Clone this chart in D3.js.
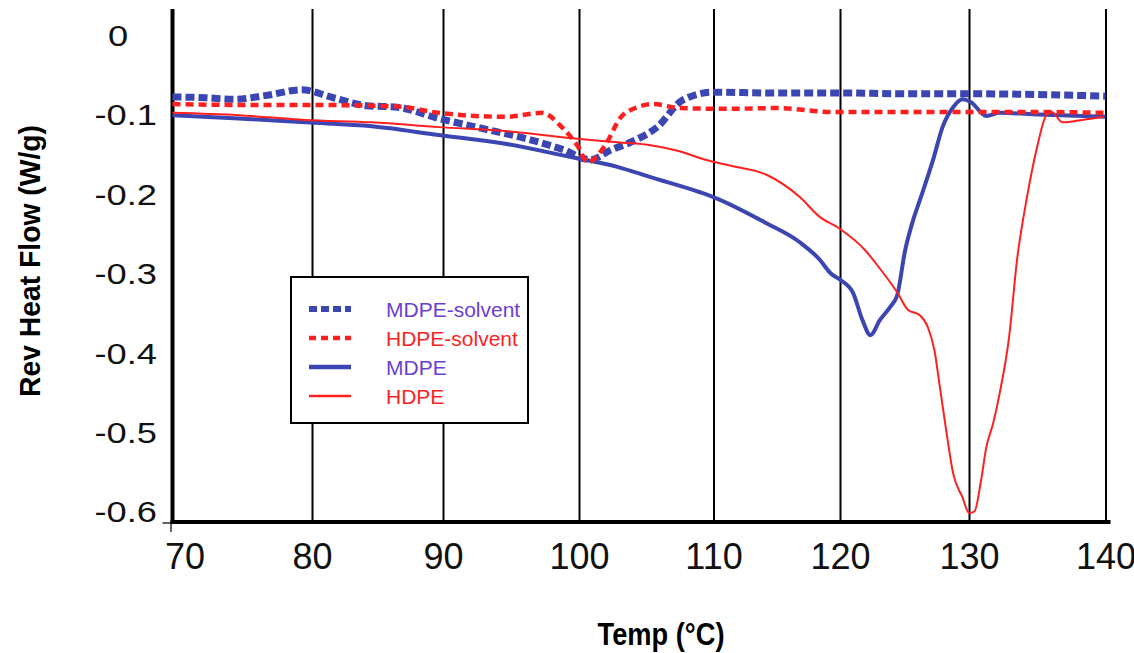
<!DOCTYPE html>
<html>
<head>
<meta charset="utf-8">
<script src="https://cdn.jsdelivr.net/npm/d3@7"></script>
<style>
  html, body { margin: 0; padding: 0; background: #fff; }
  svg { display: block; }
</style>
</head>
<body>
<svg id="chart" width="1134" height="653"></svg>
<script>
// ---------- data ----------
const xTicks = [70, 80, 90, 100, 110, 120, 130, 140];
const yTicks = [0, -0.1, -0.2, -0.3, -0.4, -0.5, -0.6];
const yTickLabels = ["0", "-0.1", "-0.2", "-0.3", "-0.4", "-0.5", "-0.6"];

const seriesNames = ["MDPE-solvent", "HDPE-solvent", "MDPE", "HDPE"];

const mdpeSolventT = [70, 72.35, 74.36, 76.75, 79.24, 81.63, 84.17, 86.51, 89.66, 92.71, 96.43, 98.79, 100.86, 102.34, 103.83, 105.81, 107.7, 109.98, 114.61, 119.87, 125.05, 130.2, 135.08, 140];
const mdpeSolventV = [-0.078, -0.079, -0.081, -0.076, -0.069, -0.079, -0.089, -0.091, -0.105, -0.117, -0.132, -0.144, -0.157, -0.145, -0.135, -0.116, -0.082, -0.072, -0.073, -0.073, -0.074, -0.074, -0.075, -0.077];

const hdpeSolventT = [70, 74.74, 79.52, 86.51, 89.66, 94.63, 97.28, 98.79, 99.87, 100.66, 102.05, 103.04, 104.33, 105.52, 107.5, 111.03, 115.04, 119.46, 125.05, 130.2, 135.08, 140];
const hdpeSolventV = [-0.087, -0.088, -0.088, -0.09, -0.098, -0.103, -0.098, -0.117, -0.139, -0.16, -0.136, -0.105, -0.091, -0.087, -0.092, -0.093, -0.092, -0.097, -0.097, -0.097, -0.097, -0.098];

const mdpeT = [70, 74.74, 79.52, 84.58, 89.66, 94.58, 99.49, 102.85, 105.32, 108.99, 109.98, 114.19, 116.82, 118.4, 119.25, 120.09, 121.02, 121.74, 122.36, 123.09, 123.91, 124.43, 125.05, 125.67, 126.19, 127.22, 127.95, 128.77, 129.49, 130.1, 131.27, 132.25, 135.08, 140];
const mdpeV = [-0.101, -0.105, -0.11, -0.115, -0.126, -0.137, -0.154, -0.166, -0.179, -0.198, -0.204, -0.237, -0.261, -0.283, -0.3, -0.309, -0.325, -0.359, -0.378, -0.359, -0.342, -0.328, -0.271, -0.233, -0.208, -0.157, -0.116, -0.091, -0.081, -0.084, -0.102, -0.098, -0.1, -0.103];

const hdpeT = [70, 74.74, 79.52, 84.58, 89.66, 94.58, 99.49, 102.85, 105.43, 107.4, 109.39, 111.46, 114.19, 116.82, 118.4, 119.89, 121.95, 122.99, 124.43, 125.26, 126.19, 126.81, 127.32, 127.74, 128.26, 128.77, 129.49, 130.01, 130.4, 130.89, 131.27, 131.77, 132.25, 132.94, 133.52, 134.21, 134.99, 135.67, 136.07, 136.85, 138.31, 139.87];
const hdpeV = [-0.098, -0.101, -0.107, -0.11, -0.116, -0.121, -0.13, -0.135, -0.139, -0.146, -0.157, -0.165, -0.176, -0.204, -0.229, -0.243, -0.271, -0.292, -0.324, -0.346, -0.353, -0.368, -0.397, -0.443, -0.501, -0.552, -0.582, -0.602, -0.6, -0.56, -0.519, -0.489, -0.451, -0.38, -0.283, -0.208, -0.141, -0.101, -0.097, -0.11, -0.107, -0.103];

// ---------- layout ----------
const svg = d3.select("#chart");
const gridPx = [172.5, 312, 443, 579, 713.5, 840, 969, 1105.5];
const plotLeft = gridPx[0], plotRight = gridPx[gridPx.length - 1], plotTop = 9, plotBottom = 522;

const x = d3.scaleLinear().domain(xTicks).range(gridPx);
const y = d3.scaleLinear().domain([0, -0.6]).range([35, 511.5]);

const blue = "#3c46b2";
const red = "#ff1f1f";
const purpleText = "#6a3fd2";

// vertical gridlines + x tick labels via axis
const gx = svg.append("g")
  .attr("transform", `translate(0,${plotBottom})`)
  .call(d3.axisBottom(x).tickValues(xTicks).tickSize(-(plotBottom - plotTop)).tickFormat(d3.format("d")));
gx.select(".domain").remove();
gx.selectAll(".tick line").attr("stroke", "#000").attr("stroke-width", 2);
gx.selectAll(".tick text")
  .attr("font-family", "'Liberation Sans', Arial, sans-serif")
  .attr("font-size", 36)
  .attr("fill", "#111")
  .attr("dx", (d, i) => i === 0 ? 12 : 0)
  .attr("y", 47)
  .attr("dy", 0);

// y tick labels via axis
const gy = svg.append("g")
  .attr("transform", `translate(157,0)`)
  .call(d3.axisLeft(y).tickValues(yTicks).tickSize(0).tickPadding(0).tickFormat((d, i) => yTickLabels[i]));
gy.select(".domain").remove();
gy.selectAll(".tick text")
  .attr("font-family", "'Liberation Sans', Arial, sans-serif")
  .attr("font-size", 29)
  .attr("fill", "#111")
  .attr("x", 0)
  .attr("dx", (d, i) => i === 0 ? -23 : 0)
  .attr("dy", "0.36em")
  .attr("transform", "scale(1.25,1)");

// axis lines
svg.append("line").attr("x1", plotLeft).attr("x2", plotLeft).attr("y1", plotTop).attr("y2", plotBottom + 2)
  .attr("stroke", "#000").attr("stroke-width", 4);
svg.append("line").attr("x1", plotLeft - 2).attr("x2", plotRight + 5).attr("y1", plotBottom).attr("y2", plotBottom)
  .attr("stroke", "#000").attr("stroke-width", 4);
// small origin ticks
svg.append("line").attr("x1", plotLeft - 10).attr("x2", plotLeft).attr("y1", plotBottom + 1).attr("y2", plotBottom + 1)
  .attr("stroke", "#000").attr("stroke-width", 1.2);
svg.append("line").attr("x1", plotLeft - 1.5).attr("x2", plotLeft - 1.5).attr("y1", plotBottom).attr("y2", plotBottom + 10)
  .attr("stroke", "#000").attr("stroke-width", 1.2);

// curves
const line = d3.line().x(d => x(d[0])).y(d => y(d[1])).curve(d3.curveMonotoneX);
const zip = (a, b) => a.map((t, i) => [t, b[i]]);

const styles = {
  "MDPE-solvent": { color: blue, width: 7, dash: "9,4", lw: 6, ldash: "8,4" },
  "HDPE-solvent": { color: red, width: 4.5, dash: "8,5", lw: 4.5, ldash: "7,5" },
  "MDPE": { color: blue, width: 4, dash: null, lw: 4.5, ldash: null },
  "HDPE": { color: red, width: 2, dash: null, lw: 2.5, ldash: null }
};
const seriesData = {
  "MDPE-solvent": zip(mdpeSolventT, mdpeSolventV),
  "HDPE-solvent": zip(hdpeSolventT, hdpeSolventV),
  "MDPE": zip(mdpeT, mdpeV),
  "HDPE": zip(hdpeT, hdpeV)
};
["MDPE-solvent", "MDPE", "HDPE-solvent", "HDPE"].forEach(name => {
  const s = styles[name];
  svg.append("path")
    .datum(seriesData[name])
    .attr("fill", "none")
    .attr("stroke", s.color)
    .attr("stroke-width", s.width)
    .attr("stroke-dasharray", s.dash)
    .attr("stroke-linejoin", "round")
    .attr("d", line);
});

// legend
const lg = svg.append("g");
lg.append("rect").attr("x", 291).attr("y", 277).attr("width", 237).attr("height", 146)
  .attr("fill", "#fff").attr("stroke", "#000").attr("stroke-width", 2);
seriesNames.forEach((name, i) => {
  const s = styles[name];
  const cy = 309 + i * 29;
  lg.append("line").attr("x1", 309).attr("x2", 351).attr("y1", cy).attr("y2", cy)
    .attr("stroke", s.color).attr("stroke-width", s.lw)
    .attr("stroke-dasharray", s.ldash);
  lg.append("text").attr("x", 386).attr("y", cy).attr("dy", "0.36em")
    .attr("font-family", "'Liberation Sans', Arial, sans-serif").attr("font-size", 21)
    .attr("fill", name.startsWith("MDPE") ? purpleText : red)
    .text(name);
});

// axis titles
svg.append("text")
  .attr("transform", "translate(40,261) rotate(-90)")
  .attr("text-anchor", "middle")
  .attr("font-family", "'Liberation Sans Narrow', 'Liberation Sans', Arial, sans-serif")
  .attr("font-weight", "bold").attr("font-size", 30)
  .attr("textLength", 272).attr("lengthAdjust", "spacingAndGlyphs")
  .text("Rev Heat Flow (W/g)");
svg.append("text")
  .attr("x", 661).attr("y", 645)
  .attr("text-anchor", "middle")
  .attr("font-family", "'Liberation Sans Narrow', 'Liberation Sans', Arial, sans-serif")
  .attr("font-weight", "bold").attr("font-size", 32)
  .attr("textLength", 127).attr("lengthAdjust", "spacingAndGlyphs")
  .text("Temp (°C)");
</script>
</body>
</html>
